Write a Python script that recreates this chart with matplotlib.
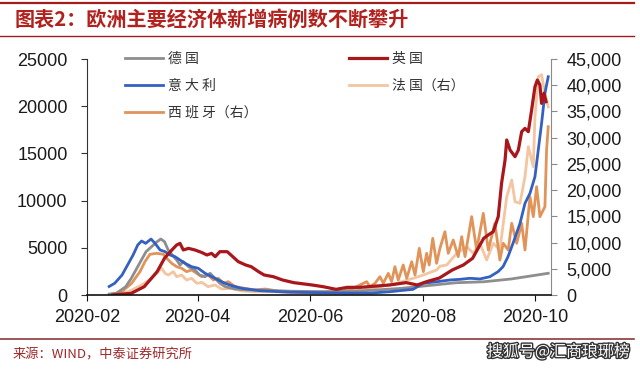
import matplotlib
matplotlib.use('Agg')
import matplotlib.pyplot as plt
import matplotlib.dates as mdates
import matplotlib.ticker as mticker
import matplotlib.patheffects as pe
import pandas as pd

plt.rcParams['font.family'] = ['Noto Sans CJK SC', 'DejaVu Sans']

start = pd.Timestamp('2020-02-01')

# 德国（左轴）：距 2020-02-01 的天数，新增病例
de_day = [12, 16, 21, 24, 27, 30, 32, 35, 38, 40, 42, 44, 47, 48.6, 50.4, 52.2, 55, 58.5, 61, 64, 66.7,
          69.4, 72, 75, 80, 87, 95, 110, 130, 150, 170, 185, 200, 215, 230, 240, 250]
de_val = [100, 200, 880, 1770, 2830, 3890, 4590, 5120, 5650, 5930, 5650, 4770, 4060, 3710, 3180, 3530, 3000,
          2650, 2120, 1940, 2300, 1770, 1240, 880, 640, 530, 530, 400, 350, 450, 700, 1000, 1300, 1400, 1700,
          2000, 2300]

# 英国（左轴）
uk_day = [14, 24, 31, 38, 42, 46, 48.6, 50.4, 52.2, 55, 58.5, 62, 65, 67.5, 69.5, 72, 76, 78, 82, 86, 89,
          93, 96, 101, 106, 112, 122, 128, 135, 141, 148, 157, 164, 173, 179, 184, 191, 198, 204, 209, 215,
          217.5, 220.2, 222.9, 224.7, 226.6, 227.5, 229.3, 232, 233.8, 235.6, 237.4, 239.2, 241, 242.8, 244.1,
          245.5, 246.4, 247.7, 248.8]
uk_val = [0, 180, 880, 2470, 3890, 4770, 5300, 5470, 4770, 4940, 4770, 4520, 4240, 4410, 4060, 4590, 4590,
          4240, 3530, 3180, 3000, 2470, 2120, 1940, 1590, 1310, 1060, 880, 600, 810, 810, 950, 1060, 1310, 1060,
          1410, 1800, 2650, 3180, 3890, 6000, 6360, 6710, 8300, 11830, 14300, 16420, 15360, 14650, 15360, 17300,
          17650, 17300, 19600, 22060, 22770, 22250, 20300, 21370, 20480]

# 意大利（左轴）
it_day = [12, 15, 19, 22, 25, 27.5, 29.6, 31.8, 34.7, 36.9, 39.6, 42.3, 45, 47.7, 50.4, 53.1, 56.7, 60.3, 64,
          67.6, 71.2, 74.8, 78.4, 83.8, 93.8, 110, 126, 142.5, 153.4, 164.2, 176.7, 182.1, 189.7, 196.7, 202.2,
          207.6, 213, 218.4, 222.8, 225.5, 228.2, 230.9, 234.7, 237.4, 240.1, 242.8, 244.6, 246.4, 248.2, 250]
it_val = [900, 1240, 2120, 3180, 4240, 5300, 5720, 5470, 5930, 5470, 4770, 4590, 4240, 4060, 3710, 3360, 3000,
          2830, 2300, 1940, 1590, 1240, 990, 710, 450, 300, 250, 200, 200, 350, 600, 1240, 1410, 1590, 1660,
          1770, 1700, 1940, 2470, 3000, 4060, 5470, 7590, 9710, 10770, 12530, 15360, 18190, 21370, 23120]

# 法国（右轴）
fr_day = [12.5, 22.4, 29.6, 35.1, 38.6, 40.5, 42.3, 44.1, 46.8, 48.6, 51.3, 54, 56.7, 59.5, 62.2, 65.7, 69.4,
          73, 78.4, 83.8, 91.1, 100.1, 115.4, 137.1, 149.6, 158.8, 167.9, 175.1, 182.3, 189.5, 191.3, 195,
          200.4, 205.8, 209.4, 213, 216.6, 220.2, 223.8, 227.5, 230.2, 232, 234.7, 237.4, 239.2, 241.9, 242.8,
          244.6, 246.4, 248.2, 250]
fr_val = [0, 630, 1910, 3180, 4450, 5090, 4130, 3810, 4450, 3490, 3810, 2860, 3180, 2230, 2410, 1590, 1910,
          1140, 1270, 760, 630, 630, 500, 700, 950, 1590, 2230, 3000, 3810, 4770, 5500, 5720, 7950, 9220, 7950,
          9860, 6670, 9860, 8580, 18740, 21930, 17790, 17480, 22560, 28280, 24470, 34000, 41630, 42000, 38460,
          35900]

# 西班牙（右轴）
es_day = [12.5, 18.8, 24.2, 28.7, 31.4, 34.1, 37.8, 41.4, 43.2, 45.9, 48.6, 51.3, 54, 56.7, 59.5, 62.2, 65.7,
          68.5, 71.2, 73.9, 76.6, 80.2, 85.6, 91.1, 96.5, 100.1, 104.6, 122.5, 137.1, 144.2, 151.6, 153.4,
          156.1, 158.8, 160.6, 163.3, 165.1, 166.9, 168.7, 171.4, 173.3, 176, 177.8, 180.1, 182.3, 184.1, 185.5,
          187.4, 189.5, 191.3, 194, 195.8, 198.5, 201.2, 203.1, 204.9, 208.5, 211.2, 214.8, 217.5, 221.1,
          223.8, 225.6, 228.3, 230.2, 232.9, 235.6, 237.4, 240.1, 241.9, 243.7, 245.5, 248.2, 249.1, 250]
es_val = [0, 630, 2230, 4450, 6350, 7760, 7950, 7760, 7000, 6040, 5400, 5090, 4450, 4770, 4130, 3490, 3810,
          2860, 3180, 2230, 2540, 1590, 1270, 950, 1140, 950, 630, 440, 630, 1270, 2540, 1590, 2230, 3490, 2230,
          4130, 2540, 5400, 2860, 5720, 3180, 6350, 3810, 8900, 4450, 7950, 5720, 10810, 6040, 8900, 12070,
          7950, 10490, 7310, 11120, 7310, 14940, 8580, 15570, 8580, 13670, 6670, 9860, 8580, 13670, 9860,
          13670, 8580, 18740, 14940, 20650, 14940, 16840, 27650, 32090]

labels = ['德 国', '英 国', '意 大 利', '法 国（右）', '西 班 牙（右）']
colors = ['#8E8E8E', '#A8171C', '#3461C1', '#F3C5A0', '#E0945A']

title = '图表2：欧洲主要经济体新增病例数不断攀升'
source = '来源：WIND，中泰证券研究所'
mark = '搜狐号@汇商琅琊榜'


def to_dates(days):
    return start + pd.to_timedelta(days, unit='D')


fig = plt.figure(figsize=(6.4, 3.7), dpi=100)
ax = fig.add_axes([87 / 640, 1 - 295 / 370, (551 - 87) / 640, (295 - 59) / 370])
ax2 = ax.twinx()
ax.set_zorder(ax2.get_zorder() + 1)
ax.patch.set_visible(False)

# 右轴先画，左轴线条在上面
l_fr, = ax2.plot(to_dates(fr_day), fr_val, color=colors[3], lw=2.0, label=labels[3])
l_es, = ax2.plot(to_dates(es_day), es_val, color=colors[4], lw=2.0, label=labels[4])
l_de, = ax.plot(to_dates(de_day), de_val, color=colors[0], lw=2.0, label=labels[0])
l_it, = ax.plot(to_dates(it_day), it_val, color=colors[2], lw=2.0, label=labels[2])
l_uk, = ax.plot(to_dates(uk_day), uk_val, color=colors[1], lw=2.3, label=labels[1])

ax.set_xlim(start, start + pd.Timedelta(days=251.5))
ax.set_ylim(0, 25000)
ax2.set_ylim(0, 45000)
ax.set_yticks(range(0, 25001, 5000))
ax2.set_yticks(range(0, 45001, 5000))
ax2.yaxis.set_major_formatter(mticker.StrMethodFormatter('{x:,.0f}'))
ax.xaxis.set_major_locator(mdates.MonthLocator(bymonth=[2, 4, 6, 8, 10]))
ax.xaxis.set_major_formatter(mdates.DateFormatter('%Y-%m'))

for s in ['top', 'right']:
    ax.spines[s].set_visible(False)
for s in ['top', 'left', 'bottom']:
    ax2.spines[s].set_visible(False)
ax.spines['left'].set_color('#333333')
ax.spines['bottom'].set_color('#111111')
ax.spines['bottom'].set_linewidth(1.2)
ax2.spines['right'].set_color('#8a8a8a')

ax.tick_params(axis='y', direction='out', length=4, pad=10, colors='#333333',
               labelcolor='#1a1a1a', labelsize=13, labelfontfamily='Liberation Sans')
ax.tick_params(axis='x', direction='out', length=4, pad=6, colors='#111111',
               labelcolor='#1a1a1a', labelsize=13, labelfontfamily='Liberation Sans')
ax2.tick_params(axis='y', direction='out', length=4, pad=7, colors='#8a8a8a',
                labelcolor='#1a1a1a', labelsize=13, labelfontfamily='Liberation Sans')

ax.legend([l_de, l_it, l_es, l_uk, l_fr],
          [labels[0], labels[2], labels[4], labels[1], labels[3]],
          ncol=2, frameon=False, fontsize=10, loc='upper left',
          bbox_to_anchor=(125 / 640, 1 - 52 / 370), bbox_transform=fig.transFigure,
          borderaxespad=0, borderpad=0, handlelength=2.7, handletextpad=0.4,
          columnspacing=6.6, labelspacing=0.92, labelcolor='#333333')

# 标题和上下分隔线
fig.add_artist(plt.Line2D([0.0, 0.99], [1 - 3 / 370, 1 - 3 / 370], color='#A31C1C', lw=1.6))
fig.add_artist(plt.Line2D([0.0, 0.99], [1 - 36 / 370, 1 - 36 / 370], color='#A31C1C', lw=1.0))
fig.text(15 / 640, 1 - 19 / 370, title, color='#B1221F', fontsize=14.5, fontweight='bold', va='center')

fig.add_artist(plt.Line2D([0.0, 0.99], [1 - 339 / 370, 1 - 339 / 370], color='#8B3A3A', lw=1.2))
fig.text(13 / 640, 1 - 355 / 370, source, color='#A0282A', fontsize=9.5, va='center')
fig.text(630 / 640, 1 - 352 / 370, mark, color='white', fontsize=11.5, ha='right', va='center',
         path_effects=[pe.withStroke(linewidth=2, foreground='#333333')])

fig.savefig('out.png', dpi=100)
